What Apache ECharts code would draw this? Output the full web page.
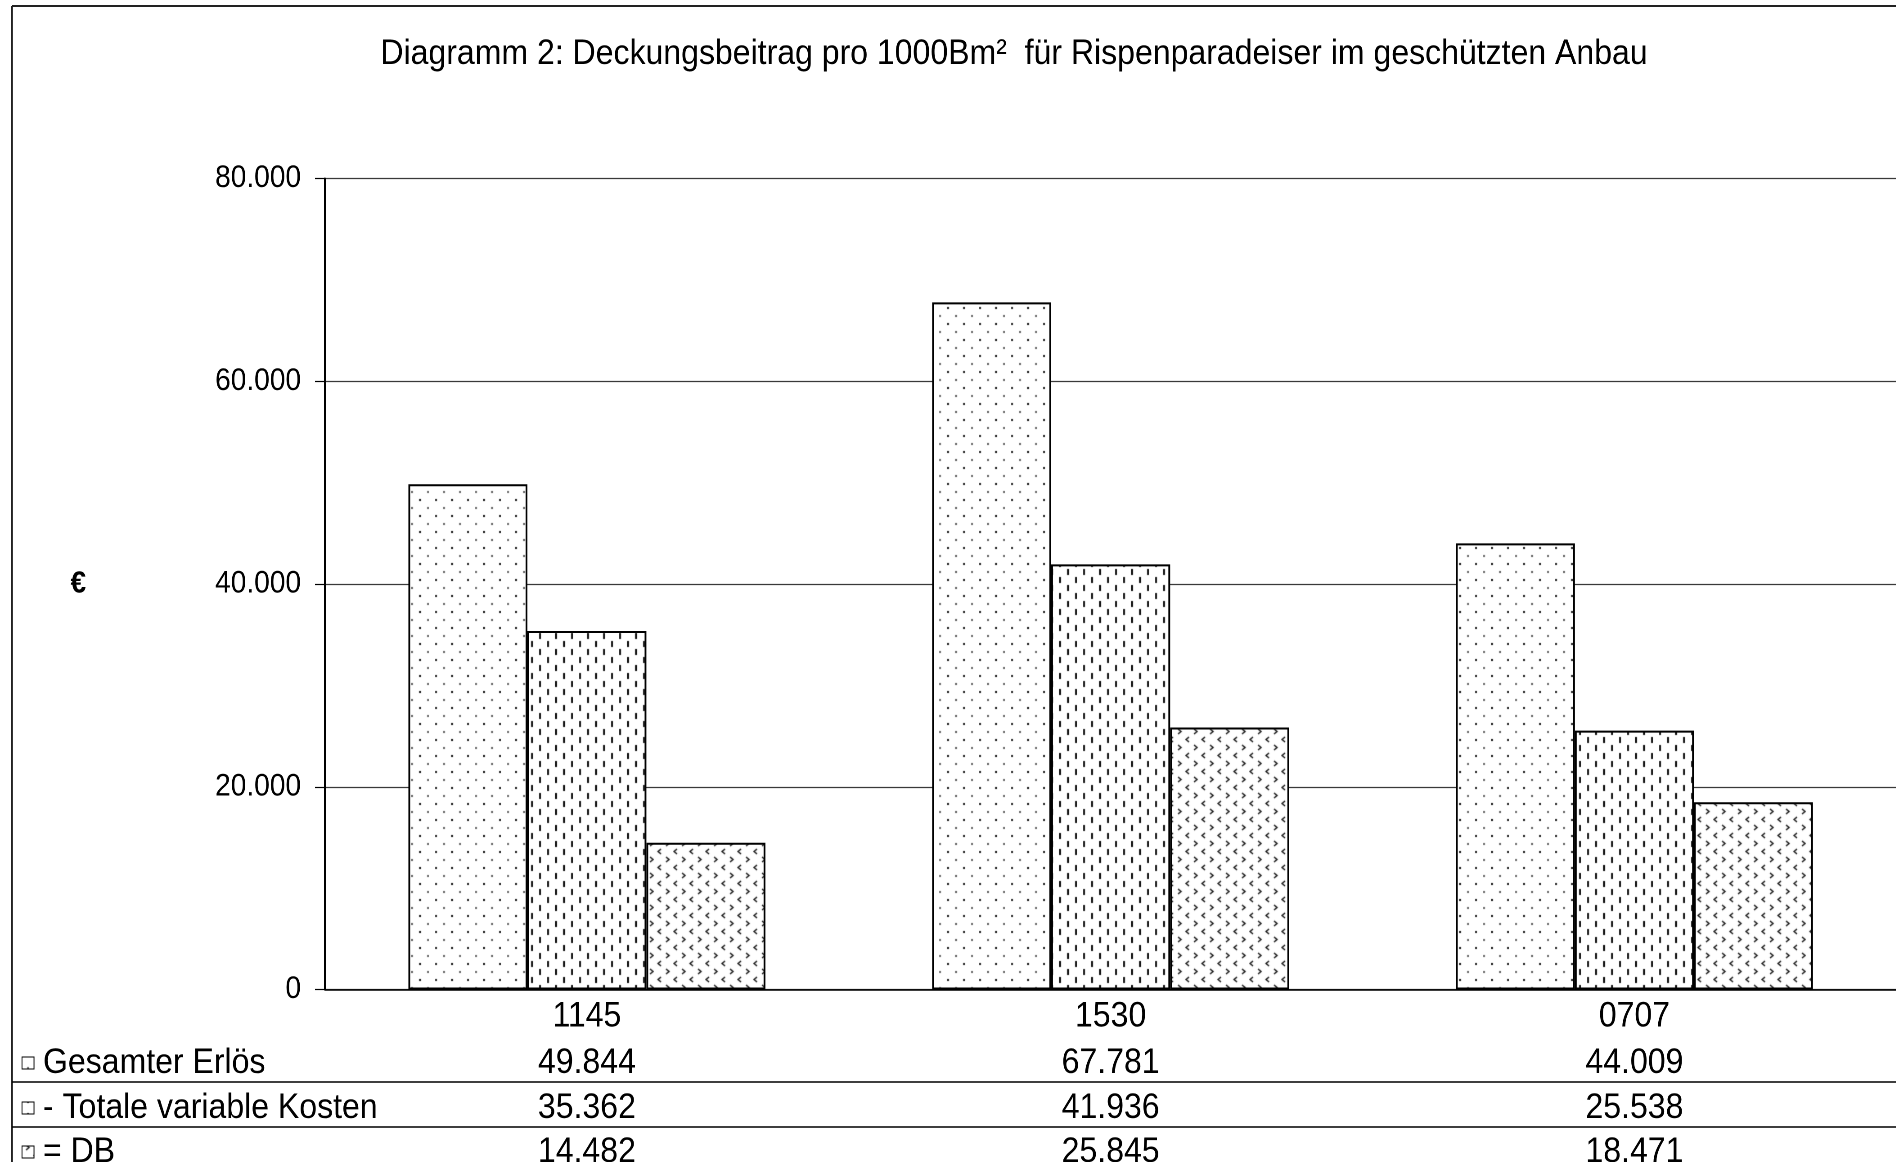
<!DOCTYPE html>
<html>
<head>
<meta charset="utf-8">
<script src="https://cdn.jsdelivr.net/npm/echarts@6/dist/echarts.min.js"></script>
<style>
  html, body { margin: 0; padding: 0; background: #fff; overflow: hidden; }
  #wrap { width: 1896px; height: 1162px; overflow: hidden; position: relative; }
  /* the sheet is drawn wider and then narrowed, like a chart object squeezed in a document */
  #chart { width: 2107px; height: 1162px; transform: scaleX(0.9); transform-origin: 0 0; }
</style>
</head>
<body>
<div id="wrap"><div id="chart"></div></div>
<script>
// ---- data ----
const categories = ['1145', '1530', '0707'];
const seriesNames = ['Gesamter Erlös', '- Totale variable Kosten', '= DB'];
const erloes = [49844, 67781, 44009];
const kosten = [35362, 41936, 25538];
const deckungsbeitrag = [14482, 25845, 18471];
const yTicks = [0, 20000, 40000, 60000, 80000];

const titleText = 'Diagramm 2: Deckungsbeitrag pro 1000Bm²  für Rispenparadeiser im geschützten Anbau';
const unitLabel = '€';

// ---- helpers ----
const SX = 0.9;                 // horizontal scale of the container
const W = 1896 / SX;            // drawing width before scaling
const FONT = '"Liberation Sans", Arial, sans-serif';
const X = v => v / SX;          // page x -> drawing x

function fmt(v) {
  return String(Math.round(v)).replace(/\B(?=(\d{3})+(?!\d))/g, '.');
}

function tile(draw) {
  const c = document.createElement('canvas');
  c.width = 16; c.height = 16;
  const g = c.getContext('2d');
  g.fillStyle = '#fff';
  g.fillRect(0, 0, 16, 16);
  draw(g);
  return c;
}

// sparse dots
const dotTile = tile(g => {
  g.fillStyle = '#222'; g.fillRect(3, 3, 2, 2);
  g.fillStyle = '#6a6a6a'; g.fillRect(11, 11, 2, 2);
});
// short vertical dashes
const dashTile = tile(g => {
  g.fillStyle = '#1a1a1a';
  g.fillRect(3, 1, 2, 6);
  g.fillRect(11, 9, 2, 6);
});
// small chevrons
const chevTile = tile(g => {
  g.strokeStyle = '#1a1a1a'; g.lineWidth = 1.4;
  g.beginPath(); g.moveTo(5, 1); g.lineTo(2, 3.5); g.lineTo(5, 6); g.stroke();
  g.beginPath(); g.moveTo(10, 9); g.lineTo(13, 11.5); g.lineTo(10, 14); g.stroke();
});

function pat(c) {
  return { image: c, repeat: 'repeat', scaleX: 1 / SX, scaleY: 1 };
}
const fills = [pat(dotTile), pat(dashTile), pat(chevTile)];
const values = [erloes, kosten, deckungsbeitrag];

// ---- chart ----
const chart = echarts.init(document.getElementById('chart'), null, { renderer: 'canvas', devicePixelRatio: 2 });

const gridLeft = X(325), gridTop = 178.5, gridWidth = X(1575), gridHeight = 811;
const fs = 35.6;

chart.setOption({
  animation: false,
  backgroundColor: '#fff',
  textStyle: { fontFamily: FONT },
  grid: { left: gridLeft, top: gridTop, width: gridWidth, height: gridHeight, containLabel: false },
  xAxis: {
    type: 'category',
    data: categories,
    axisLine: { lineStyle: { color: '#000', width: 1.5 } },
    axisTick: { show: false },
    axisLabel: { color: '#000', fontSize: fs, fontFamily: FONT, margin: 9 },
    splitLine: { show: false }
  },
  yAxis: {
    type: 'value',
    min: yTicks[0],
    max: yTicks[yTicks.length - 1],
    interval: yTicks[1] - yTicks[0],
    name: unitLabel,
    nameLocation: 'middle',
    nameRotate: 0,
    nameGap: X(325 - 86),
    nameTextStyle: { color: '#000', fontSize: 31, fontWeight: 'bold', fontFamily: FONT },
    axisLine: { show: true, lineStyle: { color: '#000', width: 2 } },
    axisTick: { show: true, inside: false, length: X(10), lineStyle: { color: '#000', width: 1.2 } },
    axisLabel: { color: '#000', fontSize: 31.2, fontFamily: FONT, margin: X(24), formatter: v => fmt(v) },
    splitLine: { show: true, lineStyle: { color: '#3a3a3a', width: 1.3 } }
  },
  series: seriesNames.map((name, i) => ({
    name: name,
    type: 'bar',
    data: values[i],
    barWidth: X(119),
    barGap: '0%',
    itemStyle: { color: fills[i], borderColor: '#000', borderWidth: 2 },
    emphasis: { disabled: true },
    silent: true
  }))
});

// ---- frame, title and data table ----
const rowY = [1063, 1108, 1152];
const ruleY = [1082, 1127, 1172];
const g = [];

g.push({ type: 'line', shape: { x1: X(12), y1: 6, x2: X(12), y2: 1162 }, style: { stroke: '#222', lineWidth: 2 }, silent: true });
g.push({ type: 'line', shape: { x1: X(12), y1: 6, x2: W, y2: 6 }, style: { stroke: '#222', lineWidth: 2 }, silent: true });

g.push({
  type: 'text', x: X(1014), y: 54,
  style: { text: titleText, font: fs + 'px ' + FONT, fill: '#000', align: 'center', verticalAlign: 'middle' },
  silent: true
});

ruleY.forEach(y => {
  g.push({ type: 'line', shape: { x1: X(12), y1: y, x2: W, y2: y }, style: { stroke: '#000', lineWidth: 1.5 }, silent: true });
});

seriesNames.forEach((name, i) => {
  g.push({
    type: 'rect', shape: { x: X(22), y: rowY[i] - 6, width: X(12), height: 12 },
    style: { fill: fills[i], stroke: '#000', lineWidth: 1 }, silent: true
  });
  g.push({
    type: 'text', x: X(43), y: rowY[i],
    style: { text: name, font: fs + 'px ' + FONT, fill: '#000', align: 'left', verticalAlign: 'middle' },
    silent: true
  });
  categories.forEach((cat, j) => {
    const px = chart.convertToPixel({ xAxisIndex: 0 }, cat);
    g.push({
      type: 'text', x: px, y: rowY[i],
      style: { text: fmt(values[i][j]), font: fs + 'px ' + FONT, fill: '#000', align: 'center', verticalAlign: 'middle' },
      silent: true
    });
  });
});

chart.setOption({ graphic: g });
</script>
</body>
</html>
